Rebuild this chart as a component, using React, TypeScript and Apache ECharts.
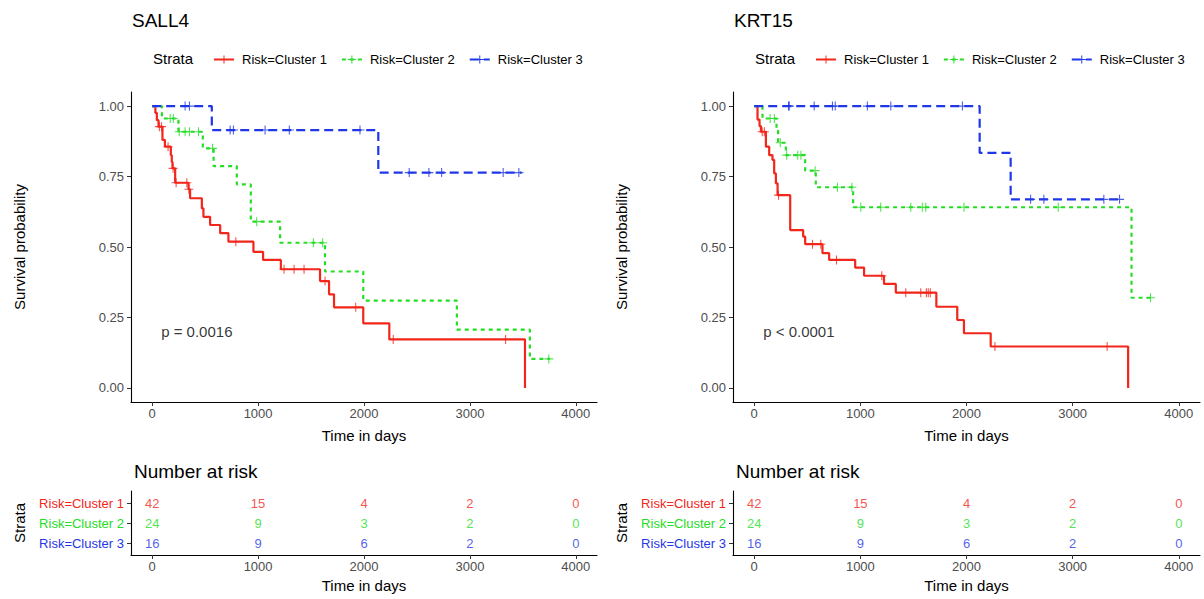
import React, { useEffect, useRef } from "react";
import * as echarts from "echarts";

const FONT = "'Liberation Sans', Arial, Helvetica, sans-serif";
const PLUS = "path://M0,4.4L10,4.4L10,5.6L0,5.6Z M4.4,0L5.6,0L5.6,10L4.4,10Z";

const timeBreaks = [0, 1000, 2000, 3000, 4000];
const survBreaks = [0, 0.25, 0.5, 0.75, 1];
const strata = ["Risk=Cluster 1", "Risk=Cluster 2", "Risk=Cluster 3"];
const strataColors = ["#F2261B", "#25DD25", "#1F37E6"];
const strataDash: any[] = ["solid", [4, 4], [9, 5]];

// Kaplan-Meier steps: [time, survival after that time]
const sall4C1 = [
  [0, 1], [30, 0.976], [44, 0.95], [60, 0.927], [97, 0.88], [120, 0.856], [176, 0.826],
  [185, 0.802], [192, 0.779], [217, 0.728], [343, 0.705], [358, 0.673], [469, 0.637],
  [484, 0.607], [547, 0.578], [642, 0.549], [720, 0.519], [956, 0.483], [1047, 0.454],
  [1215, 0.421], [1585, 0.379], [1670, 0.332], [1717, 0.286], [1993, 0.229], [2239, 0.172],
  [3520, 0],
];
const sall4C2 = [
  [0, 1], [92, 0.956], [248, 0.909], [478, 0.85], [580, 0.787], [799, 0.722], [931, 0.59],
  [1208, 0.515], [1632, 0.413], [1993, 0.31], [2877, 0.207], [3566, 0.103], [3755, 0.103],
];
const sall4C3 = [[0, 1], [563, 0.915], [2135, 0.764], [3488, 0.764]];

const sall4C1Censor = [68, 88, 150, 197, 226, 327, 346, 790, 1245, 1340, 1434, 1632, 1922, 2276, 3337];
const sall4C2Censor = [170, 200, 255, 311, 352, 437, 570, 987, 1522, 1610, 3745];
const sall4C3Censor = [311, 352, 736, 767, 1066, 1295, 1962, 2427, 2613, 2733, 3314, 3462];

const krt15C1 = [
  [0, 1], [31, 0.952], [50, 0.929], [63, 0.909], [110, 0.856], [141, 0.826], [172, 0.809],
  [188, 0.761], [204, 0.726], [220, 0.684], [339, 0.56], [461, 0.537], [480, 0.51],
  [643, 0.478], [706, 0.454], [951, 0.427], [1035, 0.398], [1223, 0.369], [1334, 0.338],
  [1716, 0.288], [1913, 0.241], [1976, 0.194], [2228, 0.147], [3523, 0],
];
const krt15C2 = [
  [0, 1], [78, 0.956], [210, 0.913], [225, 0.87], [298, 0.826], [480, 0.771], [580, 0.712],
  [932, 0.641], [3555, 0.32], [3746, 0.32],
];
const krt15C3 = [[0, 1], [2124, 0.834], [2416, 0.669], [3464, 0.669]];

const krt15C1Censor = [75, 95, 229, 549, 627, 775, 1202, 1428, 1569, 1622, 1640, 1659, 2268, 3325];
const krt15C2Censor = [150, 190, 245, 306, 410, 440, 574, 784, 920, 1004, 1192, 1475, 1584, 1616, 1976, 2864, 3734];
const krt15C3Censor = [323, 330, 565, 737, 763, 1066, 1287, 1962, 2604, 2729, 3294, 3442];

// Number at risk at each time break
const riskC1 = [42, 15, 4, 2, 0];
const riskC2 = [24, 9, 3, 2, 0];
const riskC3 = [16, 9, 6, 2, 0];

const panels = [
  {
    title: "SALL4",
    pval: "p = 0.0016",
    curves: [sall4C1, sall4C2, sall4C3],
    censors: [sall4C1Censor, sall4C2Censor, sall4C3Censor],
    risk: [riskC1, riskC2, riskC3],
    left: 131,
    width: 466,
  },
  {
    title: "KRT15",
    pval: "p < 0.0001",
    curves: [krt15C1, krt15C2, krt15C3],
    censors: [krt15C1Censor, krt15C2Censor, krt15C3Censor],
    risk: [riskC1, riskC2, riskC3],
    left: 733,
    width: 467,
  },
];

function survAt(steps: number[][], t: number) {
  let s = 1;
  for (const [x, y] of steps) {
    if (x <= t) s = y;
    else break;
  }
  return s;
}

function buildOption() {
  const grid: any[] = [];
  const xAxis: any[] = [];
  const yAxis: any[] = [];
  const series: any[] = [];
  const legend: any[] = [];
  const graphic: any[] = [];

  const axisLine = { show: true, onZero: false, lineStyle: { color: "#000", width: 1.1 } };
  const axisTickStyle = { color: "#333", width: 1 };
  const tickLabel = { color: "#4d4d4d", fontSize: 13, fontFamily: FONT };
  const nameStyle = { color: "#000", fontSize: 15, fontFamily: FONT };

  panels.forEach((p, pi) => {
    const km = pi * 2;
    const rk = pi * 2 + 1;
    grid.push({ left: p.left, top: 92, width: p.width, height: 310, outerBoundsMode: "none" });
    grid.push({ left: p.left, top: 491, width: p.width, height: 64, outerBoundsMode: "none" });

    for (const [gi, gap] of [[km, 26], [rk, 23]]) {
      xAxis.push({
        type: "value",
        gridIndex: gi,
        min: -200,
        max: 4200,
        axisLine,
        axisTick: { show: true, length: 4, lineStyle: axisTickStyle, customValues: timeBreaks },
        axisLabel: {
          ...tickLabel,
          margin: 5,
          customValues: timeBreaks,
          formatter: (v: number) => String(v),
        },
        splitLine: { show: false },
        name: "Time in days",
        nameLocation: "middle",
        nameGap: gap,
        nameTextStyle: nameStyle,
      });
    }

    yAxis.push({
      type: "value",
      gridIndex: km,
      min: -0.05,
      max: 1.05,
      axisLine,
      axisTick: { show: true, length: 4, lineStyle: axisTickStyle, customValues: survBreaks },
      axisLabel: {
        ...tickLabel,
        margin: 7,
        customValues: survBreaks,
        formatter: (v: number) => v.toFixed(2),
      },
      splitLine: { show: false },
      name: "Survival probability",
      nameLocation: "middle",
      nameGap: 104,
      nameTextStyle: nameStyle,
    });

    const rich: any = {};
    strata.forEach((s, k) => {
      rich["s" + k] = { color: strataColors[k], fontSize: 13, fontFamily: FONT };
    });
    yAxis.push({
      type: "value",
      gridIndex: rk,
      min: 0.4,
      max: 3.6,
      axisLine,
      axisTick: { show: true, length: 4, lineStyle: axisTickStyle, customValues: [1, 2, 3] },
      axisLabel: {
        margin: 7,
        customValues: [1, 2, 3],
        formatter: (v: number) => {
          const k = 3 - Math.round(v);
          return `{s${k}|${strata[k]}}`;
        },
        rich,
      },
      splitLine: { show: false },
      name: "Strata",
      nameLocation: "middle",
      nameGap: 104,
      nameTextStyle: nameStyle,
    });

    p.curves.forEach((curve, k) => {
      series.push({
        type: "line",
        name: strata[k],
        xAxisIndex: km,
        yAxisIndex: km,
        data: curve,
        step: "end",
        showSymbol: false,
        symbol: PLUS,
        symbolSize: 9,
        itemStyle: { color: strataColors[k] },
        lineStyle: { color: strataColors[k], width: 2.2, type: strataDash[k], cap: "butt" },
        z: 2,
      });
      series.push({
        type: "scatter",
        name: strata[k] + " censored",
        xAxisIndex: km,
        yAxisIndex: km,
        data: p.censors[k].map((t) => [t, survAt(curve, t)]),
        symbol: PLUS,
        symbolSize: 9,
        itemStyle: { color: strataColors[k] },
        z: 3,
      });
      series.push({
        type: "scatter",
        name: strata[k] + " at risk",
        xAxisIndex: rk,
        yAxisIndex: rk,
        data: timeBreaks.map((t, i) => [t, 3 - k, p.risk[k][i]]),
        symbolSize: 1,
        itemStyle: { color: "rgba(0,0,0,0)" },
        label: {
          show: true,
          position: "inside",
          formatter: (d: any) => String(d.value[2]),
          color: strataColors[k],
          fontSize: 13,
          fontFamily: FONT,
        },
      });
    });

    series.push({
      type: "scatter",
      name: "p-value",
      xAxisIndex: km,
      yAxisIndex: km,
      data: [[80, 0.2]],
      symbolSize: 1,
      itemStyle: { color: "rgba(0,0,0,0)" },
      label: {
        show: true,
        position: "right",
        distance: 0,
        formatter: p.pval,
        color: "#000",
        fontSize: 15,
        fontFamily: FONT,
      },
    });

    legend.push({
      left: p.left + 77,
      top: 48,
      itemWidth: 20,
      itemHeight: 10,
      itemGap: 14,
      selectedMode: false,
      data: strata,
      textStyle: { color: "#000", fontSize: 13, fontFamily: FONT, padding: [0, 0, 0, 3] },
    });

    graphic.push(
      {
        type: "text",
        x: p.left + 1,
        y: 20,
        style: { text: p.title, fontSize: 19, fontFamily: FONT, fill: "#000", verticalAlign: "middle" },
      },
      {
        type: "text",
        x: p.left + 22,
        y: 58,
        style: { text: "Strata", fontSize: 15, fontFamily: FONT, fill: "#000", verticalAlign: "middle" },
      },
      {
        type: "text",
        x: p.left + 3,
        y: 471,
        style: { text: "Number at risk", fontSize: 19, fontFamily: FONT, fill: "#000", verticalAlign: "middle" },
      }
    );
  });

  return {
    animation: false,
    backgroundColor: "#fff",
    grid,
    xAxis,
    yAxis,
    series,
    legend,
    graphic,
  };
}

export default function App() {
  const ref = useRef<HTMLDivElement>(null);
  useEffect(() => {
    if (!ref.current) return;
    const chart = echarts.init(ref.current, undefined, { renderer: "svg" });
    chart.setOption(buildOption() as any);
    return () => chart.dispose();
  }, []);
  return (
    <div
      ref={ref}
      style={{ position: "fixed", left: 0, top: 0, width: 1204, height: 599, background: "#fff" }}
    />
  );
}
